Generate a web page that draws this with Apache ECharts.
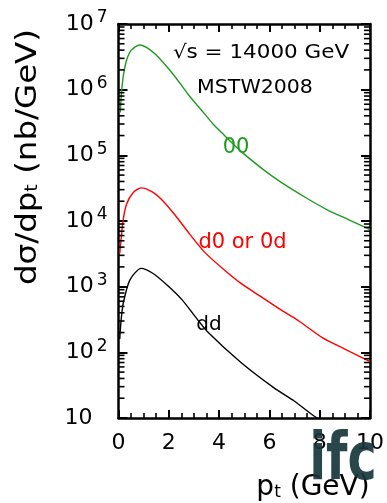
<!DOCTYPE html>
<html><head><meta charset="utf-8">
<script src="https://cdn.jsdelivr.net/npm/echarts@6/dist/echarts.min.js"></script>
<style>html,body{margin:0;padding:0;background:#fff}#c{width:387px;height:503px}</style>
</head><body><div id="c"></div>
<script>
// ---- data ----
const ptGreen  = [0.07, 0.12, 0.19, 0.32, 0.51, 0.84, 1.16, 1.49, 1.81, 2.14, 2.46, 2.79, 3.11, 3.44, 3.76, 4.09, 4.85, 5.8, 6.5, 7.47, 8.3, 9.14, 10.0];
const valGreen = [4.5e5, 9.0e5, 1.6e6, 2.8e6, 4.0e6, 4.8e6, 4.3e6, 3.4e6, 2.5e6, 1.78e6, 1.23e6, 8.3e5, 5.9e5, 4.2e5, 3.0e5, 2.24e5, 1.17e5, 5.9e4, 3.8e4, 2.24e4, 1.48e4, 1.05e4, 7.4e3];

const ptRed  = [0.05, 0.18, 0.32, 0.58, 0.90, 1.36, 1.75, 2.27, 2.79, 3.44, 4.22, 4.87, 5.65, 6.43, 7.2, 8.12, 9.0, 10.0];
const valRed = [3.2e3, 1.0e4, 1.8e4, 2.7e4, 3.2e4, 2.75e4, 2.05e4, 1.2e4, 6.6e3, 3.3e3, 1.78e3, 1.12e3, 710, 450, 295, 166, 112, 72];

const ptBlack  = [0.05, 0.1, 0.19, 0.45, 0.9, 1.36, 1.94, 2.53, 3.05, 3.57, 4.87, 6.17, 7.0, 7.73, 8.1];
const valBlack = [160, 300, 560, 1260, 1900, 1600, 1050, 630, 350, 200, 70, 29, 18, 11, 9];

const xTickLabels = [0, 2, 4, 6, 8, 10];
const yDecades = [10, 100, 1000, 1e4, 1e5, 1e6, 1e7];
const minorMult = [2, 3, 4, 5, 6, 7, 8, 9];

const labelGreen = '00';
const labelRed = 'd0 or 0d';
const labelBlack = 'dd';
const textEnergy = '\u221As = 14000 GeV';
const textPdf = 'MSTW2008';

// ---- chart ----
const FONT = 'DejaVu Sans';
const chart = echarts.init(document.getElementById('c'), null, {renderer: 'canvas'});
const pairs = (xs, ys) => xs.map((x, i) => [x, ys[i]]);
const minorVals = [];
yDecades.slice(0, -1).forEach(d => minorMult.forEach(m => minorVals.push(d * m)));
const xMin = xTickLabels[0], xMax = xTickLabels[xTickLabels.length - 1];

const axisLineStyle = {show: true, onZero: false, lineStyle: {color: '#000', width: 2.5}};

function xAxisCfg(pos, showLabel) {
  return {
    type: 'value', min: xMin, max: xMax, interval: 2, position: pos,
    axisLine: axisLineStyle,
    axisTick: {show: true, inside: true, length: 8, lineStyle: {color: '#000', width: 2}},
    minorTick: {show: true, splitNumber: 4, length: 5, lineStyle: {color: '#000', width: 1.6}},
    splitLine: {show: false}, minorSplitLine: {show: false},
    axisLabel: {show: showLabel, fontFamily: FONT, fontSize: 22, color: '#000', margin: 14,
      showMaxLabel: true, showMinLabel: true}
  };
}
function yAxisCfg(pos, showLabel) {
  return {
    type: 'log', logBase: 10, min: yDecades[0], max: yDecades[yDecades.length - 1], position: pos,
    splitNumber: 6,
    axisLine: axisLineStyle,
    axisTick: {show: true, inside: true, length: 9, lineStyle: {color: '#000', width: 2}},
    splitLine: {show: false},
    axisLabel: {show: showLabel, margin: 11, showMaxLabel: true, showMinLabel: true,
      formatter: v => {
        const e = Math.round(Math.log10(v));
        return e === 1 ? '{b|10}{p|}' : '{b|10}{s|' + e + '}';
      },
      rich: {
        b: {fontFamily: FONT, fontSize: 22, color: '#000'},
        s: {fontFamily: FONT, fontSize: 17, color: '#000', padding: [0, 0, 12, 3]},
        p: {width: 15}
      }
    }
  };
}

const curve = (xs, ys, color) => ({
  type: 'line', data: pairs(xs, ys), showSymbol: false, smooth: 0.25,
  lineStyle: {color: color, width: 1.4}, clip: true, z: 3
});
const minorTickSeries = (xv, off) => ({
  type: 'scatter', data: minorVals.map(v => [xv, v]), symbol: 'rect', symbolSize: [6, 1.6],
  symbolOffset: [off, 0], itemStyle: {color: '#000', opacity: 1}, clip: false, silent: true, z: 10,
  emphasis: {disabled: true}
});

const option = {
  animation: false,
  backgroundColor: '#fff',
  grid: {left: 118.5, right: 12, top: 24, bottom: 85, containLabel: false},
  xAxis: [xAxisCfg('bottom', true), xAxisCfg('top', false)],
  yAxis: [yAxisCfg('left', true), yAxisCfg('right', false)],
  series: [
    curve(ptGreen, valGreen, '#1f9b1f'),
    curve(ptRed, valRed, '#ff0000'),
    curve(ptBlack, valBlack, '#000000'),
    minorTickSeries(xMin, 3),
    minorTickSeries(xMax, -3)
  ],
  graphic: [
    {type: 'text', x: 261, y: 53, scaleX: 1.13, style: {text: textEnergy, fontFamily: FONT, fontSize: 19, fill: '#000', align: 'center', verticalAlign: 'middle'}},
    {type: 'text', x: 255, y: 88, scaleX: 1.08, style: {text: textPdf, fontFamily: FONT, fontSize: 19, fill: '#000', align: 'center', verticalAlign: 'middle'}},
    {type: 'text', x: 236, y: 148, style: {text: labelGreen, fontFamily: FONT, fontSize: 21, fill: '#1f9b1f', align: 'center', verticalAlign: 'middle'}},
    {type: 'text', x: 242.5, y: 243, style: {text: labelRed, fontFamily: FONT, fontSize: 21, fill: '#ff0000', align: 'center', verticalAlign: 'middle'}},
    {type: 'text', x: 209, y: 325, style: {text: labelBlack, fontFamily: FONT, fontSize: 20, fill: '#000', align: 'center', verticalAlign: 'middle'}},
    {type: 'text', x: 28, y: 157, rotation: Math.PI / 2, scaleX: 1.12,
     style: {text: '{n|d\u03C3/dp}{t|t}{n| (nb/GeV)}', align: 'center', verticalAlign: 'middle',
       rich: {n: {fontFamily: FONT, fontSize: 29, fill: '#000'}, t: {fontFamily: FONT, fontSize: 17, fill: '#000', padding: [10, 0, 0, 0]}}}},
    {type: 'text', x: 313, y: 488,
     style: {text: '{n|p}{t|t}{n| (GeV)}', align: 'center', verticalAlign: 'middle',
       rich: {n: {fontFamily: FONT, fontSize: 28, fill: '#000'}, t: {fontFamily: FONT, fontSize: 17, fill: '#000', padding: [10, 0, 0, 0]}}}},
    {type: 'text', x: 343, y: 462, z: 100, scaleX: 0.95, scaleY: 1.25,
     style: {text: 'ifc', fontFamily: FONT, fontWeight: 'bold', fontSize: 52, fill: '#17363c', opacity: 0.92, align: 'center', verticalAlign: 'middle'}}
  ]
};
chart.setOption(option);
</script>
</body></html>
